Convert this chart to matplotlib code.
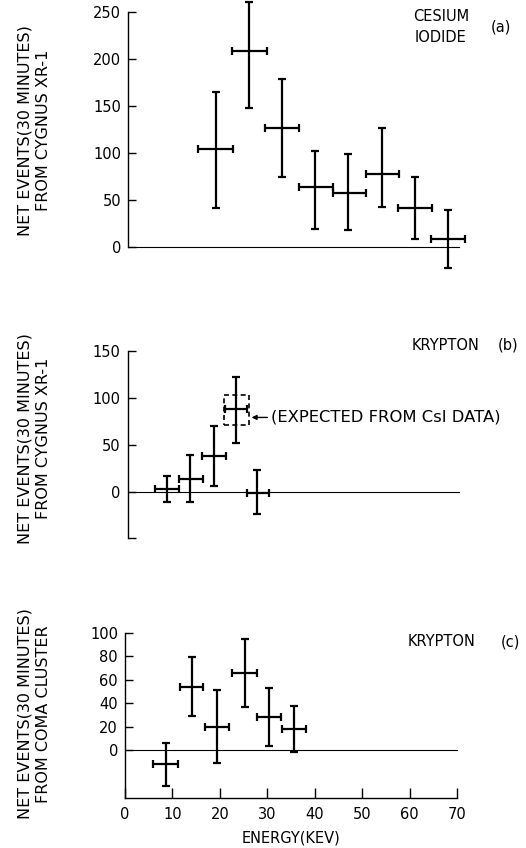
import numpy as np
import matplotlib.pyplot as plt
from matplotlib.patches import Rectangle

plt.rcParams['font.family'] = ['DejaVu Sans']

# (a) cesium iodide, Cygnus XR-1
a_e = [18.5, 25.5, 32.5, 39.5, 46.4, 53.6, 60.6, 67.7]
a_elo = [14.7, 22.0, 29.0, 36.1, 43.2, 50.2, 57.0, 64.0]
a_ehi = [22.2, 29.3, 36.2, 43.3, 50.3, 57.2, 64.2, 71.3]
a_n = [104, 208, 127, 64, 57, 78, 41, 9]
a_nlo = [42, 148, 75, 19, 18, 43, 8, -22]
a_nhi = [165, 261, 179, 102, 99, 127, 74, 39]

# (b) krypton, Cygnus XR-1
b_e = [8.4, 13.1, 18.2, 22.9, 27.3]
b_elo = [5.8, 10.8, 15.8, 20.6, 25.2]
b_ehi = [10.9, 15.9, 20.8, 25.3, 29.8]
b_n = [2.5, 13, 38, 88, -1.5]
b_nlo = [-11, -11.5, 6, 52, -23.5]
b_nhi = [17, 38.5, 70, 121.5, 23]
# expected from CsI data (dashed box)
exp_elo, exp_ehi = 20.4, 25.6
exp_nlo, exp_nhi = 71.3, 103.2

# (c) krypton, Coma cluster
c_e = [8.7, 14.1, 19.4, 25.2, 30.3, 35.6]
c_elo = [6.0, 11.6, 16.9, 22.5, 27.8, 33.1]
c_ehi = [11.1, 16.5, 21.9, 27.8, 32.8, 38.1]
c_n = [-12, 54, 20, 66, 28, 18]
c_nlo = [-30.5, 29, -11, 37, 3.5, -2]
c_nhi = [5.7, 79, 51, 95, 53, 37.5]

W, H = 526, 848
fig = plt.figure(figsize=(W / 100, H / 100), dpi=100)
FS = 10.5


def px_axes(left, top, right, bottom):
    return fig.add_axes([left / W, 1 - bottom / H, (right - left) / W, (bottom - top) / H])


def draw(ax, e, elo, ehi, n, nlo, nhi):
    e = np.array(e); n = np.array(n)
    xerr = [e - np.array(elo), np.array(ehi) - e]
    yerr = [n - np.array(nlo), np.array(nhi) - n]
    cont = ax.errorbar(e, n, xerr=xerr, yerr=yerr, fmt='none', ecolor='black',
                       elinewidth=1.6, capsize=2.6, capthick=1.6)
    for art in cont.get_children():
        art.set_clip_on(False)
    ax.plot([0, 70], [0, 0], color='black', lw=0.8, clip_on=False)


def style(ax):
    ax.set_xlim(0, 70)
    for s in ['top', 'right']:
        ax.spines[s].set_visible(False)
    ax.spines['left'].set_linewidth(1.0)
    ax.tick_params(axis='y', direction='in', length=6, width=1.0, labelsize=FS, pad=5)
    ax.tick_params(axis='y', which='minor', direction='in', length=6, width=1.0)
    ax.patch.set_visible(False)


def ylab(ytop, ybot, src):
    fig.text(34 / W, 1 - (ytop + ybot) / 2 / H, 'NET EVENTS(30 MINUTES)\n' + src,
             rotation=90, ha='center', va='center', fontsize=11.5,
             linespacing=1.3, multialignment='center')


# panel (a)
ax1 = px_axes(128.3, 12, 459.3, 247)
style(ax1)
ax1.set_ylim(0, 250)
ax1.set_yticks([0, 50, 100, 150, 200, 250])
ax1.spines['bottom'].set_visible(False)
ax1.set_xticks([])
draw(ax1, a_e, a_elo, a_ehi, a_n, a_nlo, a_nhi)
fig.text(441 / W, 1 - 27 / H, 'CESIUM\nIODIDE', ha='center', va='center',
         fontsize=FS, linespacing=1.5)
fig.text(501 / W, 1 - 27 / H, '(a)', ha='center', va='center', fontsize=FS)
ylab(23, 238, 'FROM CYGNUS XR-1')

# panel (b)
ax2 = px_axes(127.7, 350.7, 458.7, 538.3)
style(ax2)
ax2.set_ylim(-49.6, 150)
ax2.set_yticks([0, 50, 100, 150])
ax2.set_yticks([-49.6], minor=True)
ax2.spines['bottom'].set_visible(False)
ax2.set_xticks([])
draw(ax2, b_e, b_elo, b_ehi, b_n, b_nlo, b_nhi)
ax2.add_patch(Rectangle((exp_elo, exp_nlo), exp_ehi - exp_elo, exp_nhi - exp_nlo,
                        fill=False, ls=(0, (3, 2)), lw=1.2, ec='black'))
ax2.annotate('(EXPECTED FROM CsI DATA)', xy=(26.2, 79), xytext=(30.4, 79),
             ha='left', va='center', fontsize=11.8,
             arrowprops=dict(arrowstyle='-|>', color='black', lw=1.0,
                             mutation_scale=7, shrinkA=1, shrinkB=0))
fig.text(412 / W, 1 - 345 / H, 'KRYPTON', ha='left', va='center', fontsize=FS)
fig.text(508 / W, 1 - 345 / H, '(b)', ha='center', va='center', fontsize=FS)
ylab(330, 547, 'FROM CYGNUS XR-1')

# panel (c)
ax3 = px_axes(125, 632.7, 457, 797.7)
style(ax3)
ax3.set_ylim(-40.7, 100)
ax3.set_yticks([0, 20, 40, 60, 80, 100])
ax3.set_xticks(np.arange(0, 71, 10))
ax3.spines['bottom'].set_linewidth(1.0)
ax3.tick_params(axis='x', direction='in', length=7, width=1.0, labelsize=FS, pad=7)
draw(ax3, c_e, c_elo, c_ehi, c_n, c_nlo, c_nhi)
ax3.set_xlabel('ENERGY(KEV)', fontsize=FS, labelpad=6)
fig.text(408 / W, 1 - 642 / H, 'KRYPTON', ha='left', va='center', fontsize=FS)
fig.text(510 / W, 1 - 642 / H, '(c)', ha='center', va='center', fontsize=FS)
ylab(605, 823, 'FROM COMA CLUSTER')

fig.savefig('out.png', dpi=100)
